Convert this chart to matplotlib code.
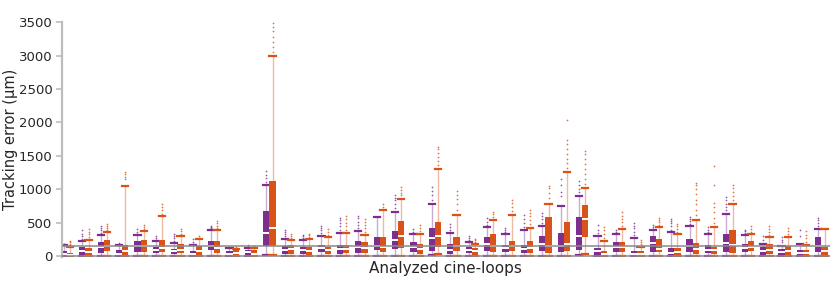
import numpy as np
import matplotlib.pyplot as plt

# Box statistics (tracking error in um)
# purple series
p_q1 = [10, 25, 50, 10, 60, 50, 35, 5, 90, 0, 10, 150, 40, 35, 60, 40, 50, 90, 115, 70, 85,
        35, 50, 85, 60, 50, 85, 60, 100, 25, 65, 0, 60, 0, 65, 50, 60, 60, 25, 15, 0, 60]
p_med = [40, 75, 140, 40, 150, 100, 75, 35, 160, 40, 60, 348, 100, 90, 125, 110, 140, 150, 250, 140, 274,
         100, 100, 190, 125, 110, 190, 160, 298, 75, 139, 40, 199, 50, 149, 100, 199, 124, 75, 60, 50, 159]
p_q3 = [80, 140, 210, 90, 225, 135, 110, 75, 235, 75, 90, 672, 160, 140, 175, 175, 225, 290, 375, 210, 423,
        190, 145, 290, 175, 175, 300, 348, 596, 125, 214, 75, 299, 124, 264, 174, 338, 189, 134, 109, 90, 289]
p_lo = [0, 0, 5, 0, 5, 5, 0, 0, 10, 0, 0, 25, 0, 0, 5, 0, 5, 10, 10, 5, 15,
        0, 5, 10, 5, 5, 10, 5, 15, 0, 5, 0, 5, 0, 5, 5, 5, 5, 0, 0, 0, 5]
p_hi = [165, 225, 325, 165, 315, 225, 200, 165, 400, 125, 125, 1070, 265, 240, 310, 350, 385, 585, 665, 340, 780,
        343, 215, 433, 333, 388, 458, 746, 909, 308, 338, 279, 388, 363, 448, 333, 637, 323, 189, 159, 189, 408]
p_out = [[180, 190], [260, 300, 340, 390], [350, 390, 420, 450], [185, 200], [340, 370, 410],
         [250, 275, 300], [230, 270, 310, 340], [190, 220, 260], [420, 440, 460], [140],
         [150, 175], [1110, 1170, 1220, 1270], [300, 340, 370, 400], [270, 300, 325],
         [350, 390, 420, 450], [400, 450, 500, 540, 575], [420, 470, 520, 570, 610], [],
         [720, 780, 840, 880, 910], [370, 410], [850, 920, 980, 1035], [390, 440, 490],
         [240, 270, 300], [470, 520, 572], [360, 390, 420], [440, 500, 560, 620],
         [500, 560, 610, 647], [904, 958, 1068, 1154], [960, 1010, 1060, 1128], [350, 400, 473],
         [370, 398], [320, 370, 420, 460, 498], [410, 440, 473], [400, 450, 500, 530, 557],
         [490, 530, 560, 587], [360, 400, 438], [690, 740, 790, 840, 881], [350, 375, 398],
         [240, 299], [210, 250, 284], [310, 398], [450, 500, 540, 572]]

# orange series
o_q1 = [5, 15, 75, 25, 65, 60, 50, 25, 50, 10, 0, 160, 40, 25, 35, 50, 50, 70, 125, 35, 140,
        75, 25, 60, 85, 50, 50, 85, 288, 10, 65, 0, 60, 0, 40, 35, 50, 75, 35, 25, 0, 25]
o_med = [20, 60, 160, 75, 150, 125, 100, 75, 125, 50, 40, 423, 110, 75, 90, 110, 125, 140, 310, 110, 298,
         150, 75, 150, 150, 125, 160, 190, 561, 40, 139, 40, 109, 60, 109, 90, 174, 139, 100, 75, 50, 75]
o_q3 = [55, 125, 240, 165, 250, 250, 185, 160, 225, 100, 90, 1130, 175, 140, 140, 175, 210, 290, 535, 185, 512,
        284, 125, 338, 234, 234, 582, 517, 770, 75, 214, 85, 259, 124, 199, 139, 388, 234, 184, 149, 90, 139]
o_lo = [0, 0, 5, 0, 5, 5, 0, 0, 0, 0, 0, 20, 0, 0, 0, 0, 0, 5, 10, 0, 35,
        5, 0, 5, 5, 5, 5, 5, 40, 0, 5, 0, 5, 0, 5, 0, 5, 5, 0, 0, 0, 0]
o_hi = [145, 250, 360, 1050, 385, 600, 310, 260, 390, 115, 125, 2990, 250, 265, 285, 350, 325, 700, 865, 340, 1303,
        617, 190, 547, 622, 423, 786, 1257, 1018, 224, 413, 139, 438, 333, 547, 438, 781, 333, 289, 289, 174, 408]
o_out = [[170, 190, 210, 230], [290, 330, 370, 410], [390, 420, 460, 490], [1150, 1190, 1230, 1260],
         [410, 440, 470], [640, 690, 740, 785], [340, 380, 415], [280, 300], [420, 460, 500, 525],
         [130, 140], [140, 150], [3050, 3120, 3200, 3280, 3360, 3420, 3480], [280, 310, 340],
         [290, 315, 340], [320, 360, 410], [400, 450, 500, 560, 610], [370, 420, 470, 520, 560],
         [740, 785], [910, 950, 990, 1035], [380, 430, 475], [1370, 1430, 1490, 1550, 1600, 1640],
         [700, 780, 860, 920, 970], [215, 240, 265], [590, 630, 670], [680, 740, 800, 845],
         [480, 540, 600, 650, 697], [870, 950, 1020, 1055],
         [1320, 1390, 1460, 1530, 1600, 1680, 1740, 2037],
         [1080, 1150, 1230, 1300, 1380, 1460, 1530, 1575], [280, 340, 400, 438],
         [460, 510, 560, 610, 657], [180, 220, 249], [470, 510, 545, 572], [370, 410, 450, 488],
         [620, 700, 780, 850, 930, 1000, 1060, 1104], [500, 580, 660, 740, 796, 1060, 1353],
         [840, 900, 960, 1020, 1070], [370, 410, 448], [320, 360, 410, 448], [330, 380, 423],
         [220, 270, 320, 373], []]

ref_level = 150
purple = '#7E2F8E'
orange = '#D95319'


def stats(q1, med, q3, lo, hi, out):
    return [dict(q1=a, med=b, q3=c, whislo=d, whishi=e, fliers=f)
            for a, b, c, d, e, f in zip(q1, med, q3, lo, hi, out)]


fig = plt.figure(figsize=(8.3, 2.86), dpi=100)
ax = fig.add_axes([0.0747, 0.101, 0.925, 0.822])

n = len(p_q1)
x = np.arange(1, n + 1)
w = 0.34

for data, pos, col in [(stats(p_q1, p_med, p_q3, p_lo, p_hi, p_out), x - w / 2, purple),
                       (stats(o_q1, o_med, o_q3, o_lo, o_hi, o_out), x + w / 2, orange)]:
    ax.bxp(data, positions=pos, widths=w, capwidths=w, patch_artist=True,
           boxprops=dict(facecolor=col, edgecolor=col, linewidth=0),
           medianprops=dict(color='white', linewidth=1.4),
           whiskerprops=dict(color=col, alpha=0.4, linewidth=1),
           capprops=dict(color=col, linewidth=1.6),
           flierprops=dict(marker='.', markersize=2.5, markerfacecolor=col,
                           markeredgecolor='none', alpha=0.8),
           manage_ticks=False)

ax.axhline(ref_level, color='#8a8a8a', linewidth=1.1, zorder=5)

ax.set_xlim(0.73, n + 0.45)
ax.set_ylim(-10, 3500)
ax.set_xticks([])
ax.set_yticks(np.arange(0, 3501, 500))
for s in ['top', 'right']:
    ax.spines[s].set_visible(False)
ax.spines['left'].set_color('#bdbdbd')
ax.spines['left'].set_linewidth(1.6)
ax.spines['bottom'].set_color('#8a8a8a')
ax.spines['bottom'].set_linewidth(1.1)
ax.spines['bottom'].set_position(('data', 0))
ax.tick_params(axis='y', colors='#bdbdbd', labelcolor='#262626', labelsize=9.5,
               length=4, width=1.2, pad=3)
ax.set_ylabel('Tracking error (μm)', fontsize=10.5, color='#262626')
ax.yaxis.set_label_coords(-0.057, 0.5)
ax.set_xlabel('Analyzed cine-loops', fontsize=11, color='#262626', labelpad=3)

fig.savefig('out.png', dpi=100)
